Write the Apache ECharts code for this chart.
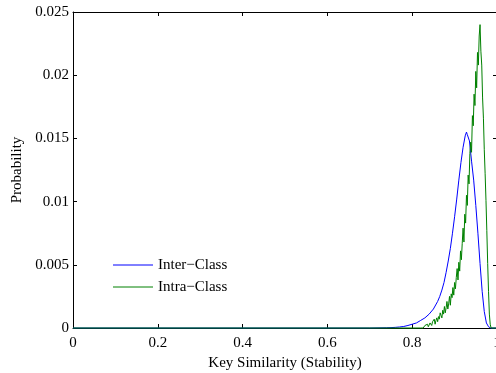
<!DOCTYPE html>
<html>
<head>
<meta charset="utf-8">
<script src="https://cdn.jsdelivr.net/npm/echarts@6/dist/echarts.min.js"></script>
<style>
  html, body { margin: 0; padding: 0; background: #fff; overflow: hidden; }
  #chart { width: 496px; height: 373px; }
</style>
</head>
<body>
<div id="chart"></div>
<script>
// Histogram of key similarity scores (probability per bin)
const seriesNames = ['Inter\u2212Class', 'Intra\u2212Class'];
const seriesColors = ['#0000ff', '#008000'];

const xTicks = [0, 0.2, 0.4, 0.6, 0.8, 1];
const yTicks = [0, 0.005, 0.01, 0.015, 0.02, 0.025];

// Inter-class similarity distribution
const interX = [0, 0.70, 0.74, 0.75, 0.76, 0.77, 0.78, 0.79, 0.80, 0.81, 0.82, 0.83, 0.84, 0.85,
  0.86, 0.865, 0.87, 0.875, 0.88, 0.885, 0.89, 0.895, 0.90, 0.905, 0.91, 0.915, 0.92,
  0.925, 0.928, 0.930, 0.932, 0.935, 0.94, 0.945, 0.95, 0.955, 0.96, 0.965, 0.97,
  0.975, 0.98, 0.985, 1];
const interY = [0, 0, 0.00002, 0.00003, 0.00005, 0.00008, 0.00012, 0.0002, 0.0003, 0.0004, 0.0006, 0.0008, 0.0011, 0.0015,
  0.0021, 0.0025, 0.0030, 0.0036, 0.0044, 0.0053, 0.0063, 0.0075, 0.0088, 0.0102, 0.0117, 0.0131, 0.0143,
  0.0152, 0.0155, 0.0153, 0.0154, 0.0148, 0.0132, 0.0117, 0.0097, 0.0075, 0.0051, 0.0029, 0.0013,
  0.0004, 0.0001, 0, 0];

// Intra-class similarity distribution
const intraX = [0, 0.820, 0.822, 0.824, 0.826, 0.828, 0.830, 0.832, 0.834, 0.836, 0.838,
  0.840, 0.842, 0.844, 0.846, 0.848, 0.850, 0.852, 0.854, 0.856, 0.858,
  0.860, 0.862, 0.864, 0.866, 0.868, 0.870, 0.872, 0.874, 0.876, 0.878,
  0.880, 0.882, 0.884, 0.886, 0.888, 0.890, 0.892, 0.894, 0.896, 0.898,
  0.900, 0.902, 0.904, 0.906, 0.908, 0.910, 0.912, 0.914, 0.916, 0.918,
  0.920, 0.922, 0.924, 0.926, 0.928, 0.930, 0.932, 0.934, 0.936, 0.938,
  0.940, 0.942, 0.944, 0.946, 0.948, 0.950, 0.952, 0.954, 0.956, 0.958,
  0.960, 0.962, 0.964, 0.966, 0.968, 0.970, 0.972, 0.974, 0.976, 0.978,
  0.980, 0.982, 0.984, 0.986, 0.988, 1];
const intraY = [0, 0, 0.0001, 0, 0, 0.0001, 0.0002, 0.0001, 0.0001, 0.0003, 0.0001,
  0.0002, 0.0004, 0.0003, 0.0002, 0.0005, 0.0004, 0.0007, 0.0003, 0.0006, 0.0008,
  0.0005, 0.0009, 0.0007, 0.0012, 0.0010, 0.0008, 0.0014, 0.0011, 0.0017, 0.0012,
  0.0016, 0.0021, 0.0015, 0.0019, 0.0025, 0.0018, 0.0027, 0.0024, 0.0032, 0.0026,
  0.0036, 0.0031, 0.0040, 0.0047, 0.0038, 0.0052, 0.0045, 0.0061, 0.0054, 0.0067,
  0.0079, 0.0068, 0.0090, 0.0083, 0.0105, 0.0097, 0.0121, 0.0114, 0.0138, 0.0147,
  0.0139, 0.0168, 0.0160, 0.0185, 0.0176, 0.0203, 0.0190, 0.0218, 0.0208, 0.0231,
  0.0240, 0.0219, 0.0208, 0.0182, 0.0166, 0.0141, 0.0122, 0.0101, 0.0077, 0.0051,
  0.0029, 0.0011, 0.0003, 0, 0, 0];

const pairs = (xs, ys) => xs.map((x, i) => [x, ys[i]]);

const FONT = '"Liberation Serif", "Times New Roman", serif';
const axisBase = {
  type: 'value',
  axisLine: { show: true, onZero: false, lineStyle: { color: '#000', width: 1 } },
  axisTick: { show: true, inside: true, length: 4, lineStyle: { color: '#000' } },
  splitLine: { show: false }
};

// Boxless legend: a 40px line sample followed by the series name
const legendLeft = 113, legendTop = 265, legendRow = 22;
const legendGraphics = [];
seriesNames.forEach((name, i) => {
  const y = legendTop + i * legendRow;
  legendGraphics.push({
    type: 'line', silent: true,
    shape: { x1: legendLeft, y1: y, x2: legendLeft + 40, y2: y },
    style: { stroke: seriesColors[i], lineWidth: 1 }
  });
  legendGraphics.push({
    type: 'text', silent: true,
    x: legendLeft + 45, y: y,
    style: { text: name, fill: '#000', font: '15px ' + FONT, verticalAlign: 'middle' }
  });
});

const chart = echarts.init(document.getElementById('chart'), null, { renderer: 'canvas' });
chart.setOption({
  animation: false,
  backgroundColor: '#fff',
  textStyle: { fontFamily: FONT },
  grid: { left: 73, right: -1, top: 12, bottom: 45, containLabel: false, outerBoundsMode: 'none' },
  graphic: legendGraphics,
  xAxis: [
    Object.assign({}, axisBase, {
      position: 'bottom',
      min: xTicks[0], max: xTicks[xTicks.length - 1], interval: xTicks[1] - xTicks[0],
      name: 'Key Similarity (Stability)',
      nameLocation: 'middle',
      nameGap: 23,
      nameTextStyle: { fontFamily: FONT, fontSize: 15, color: '#000' },
      axisLabel: {
        margin: 8, fontFamily: FONT, fontSize: 15, color: '#000',
        formatter: v => String(+v.toFixed(1))
      }
    }),
    Object.assign({}, axisBase, {
      position: 'top',
      min: xTicks[0], max: xTicks[xTicks.length - 1], interval: xTicks[1] - xTicks[0],
      axisLabel: { show: false }
    })
  ],
  yAxis: [
    Object.assign({}, axisBase, {
      position: 'left',
      min: yTicks[0], max: yTicks[yTicks.length - 1], interval: yTicks[1] - yTicks[0],
      name: 'Probability',
      nameLocation: 'middle',
      nameGap: 45,
      nameTextStyle: { fontFamily: FONT, fontSize: 15, color: '#000' },
      axisLabel: {
        margin: 4, fontFamily: FONT, fontSize: 15, color: '#000',
        formatter: v => String(+v.toFixed(3))
      }
    }),
    Object.assign({}, axisBase, {
      position: 'right',
      min: yTicks[0], max: yTicks[yTicks.length - 1], interval: yTicks[1] - yTicks[0],
      axisLabel: { show: false }
    })
  ],
  series: [
    {
      name: seriesNames[0],
      type: 'line',
      xAxisIndex: 0, yAxisIndex: 0,
      symbol: 'none',
      clip: false,
      lineStyle: { color: seriesColors[0], width: 1 },
      itemStyle: { color: seriesColors[0] },
      data: pairs(interX, interY)
    },
    {
      name: seriesNames[1],
      type: 'line',
      xAxisIndex: 0, yAxisIndex: 0,
      symbol: 'none',
      clip: false,
      lineStyle: { color: seriesColors[1], width: 1 },
      itemStyle: { color: seriesColors[1] },
      data: pairs(intraX, intraY)
    }
  ]
});
</script>
</body>
</html>
